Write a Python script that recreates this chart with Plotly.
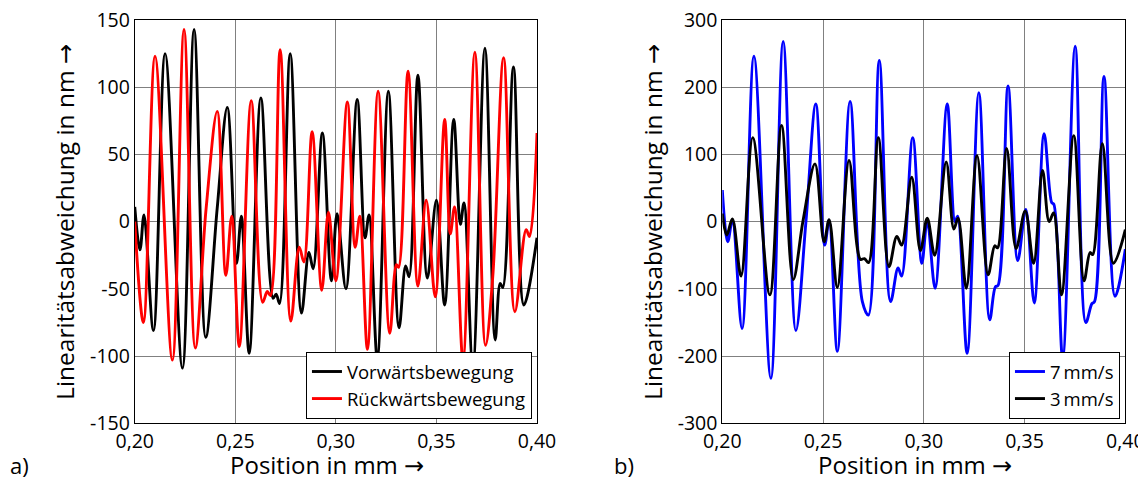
import plotly.graph_objects as go

# ---- Daten ----
# a) Vorwaerts / Rueckwaerts, Extremwerte der Kurven
x_vor = [0.2000, 0.2026, 0.2046, 0.2093, 0.2151, 0.2237, 0.2295, 0.2353, 0.2410, 0.2460,
         0.2506, 0.2530, 0.2569, 0.2627, 0.2688, 0.2703, 0.2720, 0.2773, 0.2829, 0.2866,
         0.2887, 0.2933, 0.2978, 0.3006, 0.3050, 0.3106, 0.3145, 0.3165, 0.3206, 0.3261,
         0.3314, 0.3347, 0.3364, 0.3408, 0.3455, 0.3500, 0.3541, 0.3586, 0.3619, 0.3637,
         0.3681, 0.3741, 0.3792, 0.3817, 0.3830, 0.3883, 0.3935, 0.4000]
y_vor = [11, -21, 5, -81, 125, -109, 143, -86, 10, 85,
         -31, 4, -98, 92, -57, -54, -61, 125, -68, -23,
         -35, 66, -44, 6, -50, 91, -12, 5, -102, 97,
         -79, -33, -41, 109, -42, 16, -62, 76, -2, 14,
         -108, 129, -88, -46, -49, 115, -62, -12]

x_rueck = [0.2000, 0.2043, 0.2101, 0.2187, 0.2245, 0.2301, 0.2355, 0.2410, 0.2453, 0.2482,
           0.2520, 0.2579, 0.2636, 0.2659, 0.2675, 0.2723, 0.2776, 0.2818, 0.2841, 0.2882,
           0.2930, 0.2963, 0.3000, 0.3057, 0.3096, 0.3119, 0.3157, 0.3210, 0.3268, 0.3301,
           0.3312, 0.3359, 0.3408, 0.3449, 0.3494, 0.3541, 0.3569, 0.3590, 0.3632, 0.3691,
           0.3744, 0.3780, 0.3834, 0.3890, 0.3946, 0.3963, 0.4000]
y_rueck = [0, -75, 123, -103, 143, -94, 10, 82, -40, 4,
           -93, 90, -60, -52, -55, 128, -74, -19, -30, 67,
           -51, 7, -44, 89, -19, 4, -95, 97, -83, -32,
           -34, 112, -48, 16, -56, 76, -9, 11, -103, 126,
           -92, -41, 122, -67, -6, -11, 66]

# b) 7 mm/s und 3 mm/s
x_7 = [0.2000, 0.2027, 0.2050, 0.2098, 0.2157, 0.2241, 0.2302, 0.2365, 0.2415, 0.2464,
       0.2508, 0.2530, 0.2571, 0.2634, 0.2695, 0.2725, 0.2779, 0.2835, 0.2872, 0.2890,
       0.2945, 0.2990, 0.3017, 0.3056, 0.3116, 0.3155, 0.3168, 0.3215, 0.3273, 0.3327,
       0.3355, 0.3368, 0.3418, 0.3466, 0.3506, 0.3548, 0.3597, 0.3635, 0.3645, 0.3689,
       0.3751, 0.3804, 0.3834, 0.3847, 0.3894, 0.3949, 0.4000]
y_7 = [47, -30, 2, -159, 246, -233, 268, -162, 0, 175,
       -35, 2, -193, 179, -119, -139, 240, -119, -69, -81,
       125, -62, 2, -99, 175, 0, 8, -196, 192, -146,
       -97, -95, 202, -58, 18, -121, 131, 28, 26, -203,
       261, -150, -122, -119, 216, -111, -41]

x_3 = [0.2000, 0.2022, 0.2050, 0.2093, 0.2151, 0.2236, 0.2294, 0.2352, 0.2401, 0.2460,
       0.2505, 0.2530, 0.2571, 0.2629, 0.2685, 0.2705, 0.2726, 0.2774, 0.2827, 0.2866,
       0.2890, 0.2940, 0.2983, 0.3017, 0.3054, 0.3111, 0.3149, 0.3170, 0.3211, 0.3264,
       0.3319, 0.3352, 0.3366, 0.3411, 0.3458, 0.3503, 0.3545, 0.3589, 0.3622, 0.3644,
       0.3683, 0.3744, 0.3795, 0.3825, 0.3838, 0.3886, 0.3941, 0.4000]
y_3 = [12, -20, 4, -81, 125, -109, 143, -86, 2, 86,
       -30, 3, -98, 91, -56, -55, -61, 125, -67, -22,
       -35, 66, -43, 5, -50, 89, -11, 5, -99, 98,
       -79, -36, -39, 109, -40, 16, -62, 76, 0, 13,
       -109, 128, -88, -46, -49, 116, -62, -12]

x_ticks = [0.20, 0.25, 0.30, 0.35, 0.40]
x_ticktext = ["0,20", "0,25", "0,30", "0,35", "0,40"]
y_ticks_a = [-150, -100, -50, 0, 50, 100, 150]
y_ticks_b = [-300, -200, -100, 0, 100, 200, 300]

schrift = "Open Sans"
pfeil = '<span style="font-family:DejaVu Sans">\u2192</span>'

fig = go.Figure()

def linie(x, y, farbe, name, xa, ya, leg):
    return go.Scatter(x=x, y=y, mode="lines", name=name, xaxis=xa, yaxis=ya, legend=leg,
                      line=dict(color=farbe, width=2.9, shape="spline", smoothing=1.0))

fig.add_trace(linie(x_vor, y_vor, "black", "Vorwärtsbewegung", "x", "y", "legend"))
fig.add_trace(linie(x_rueck, y_rueck, "#ff0000", "Rückwärtsbewegung", "x", "y", "legend"))
fig.add_trace(linie(x_7, y_7, "#0000ff", "7\u2009mm/s", "x2", "y2", "legend2"))
fig.add_trace(linie(x_3, y_3, "black", "3\u2009mm/s", "x2", "y2", "legend2"))

achse_x = dict(range=[0.20, 0.40], tickvals=x_ticks, ticktext=x_ticktext, automargin=False,
               showline=True, linecolor="black", linewidth=1, mirror=True,
               showgrid=True, gridcolor="#808080", gridwidth=1, zeroline=False,
               ticks="", tickfont=dict(size=19.5, color="black"), ticklabeloverflow="allow")
achse_y = dict(showline=True, linecolor="black", linewidth=1, mirror=True, automargin=False,
               showgrid=True, gridcolor="#808080", gridwidth=1, zeroline=False,
               ticks="", tickfont=dict(size=19.5, color="black"), ticklabeloverflow="allow",
               title=dict(text="Linearitätsabweichung in nm " + pfeil, font=dict(size=24.5, color="black"), standoff=8))

# die Seite hat 8px Rand, daher alles etwas verschoben
fig.update_layout(
    width=1146, height=477,
    margin=dict(l=0, r=0, t=0, b=0),
    paper_bgcolor="white", plot_bgcolor="white",
    font=dict(family=schrift, color="black"),
    xaxis=dict(achse_x, domain=[0.1106, 0.4616], anchor="y"),
    yaxis=dict(achse_y, domain=[0.1294, 0.9748], anchor="x", range=[-150, 150],
               tickvals=y_ticks_a, ticktext=[str(v) for v in y_ticks_a]),
    xaxis2=dict(achse_x, domain=[0.6233, 0.975], anchor="y2"),
    yaxis2=dict(achse_y, domain=[0.1294, 0.9748], anchor="x2", range=[-300, 300],
                tickvals=y_ticks_b, ticktext=[str(v) for v in y_ticks_b]),
    legend=dict(x=0.4572, y=0.1384, xanchor="right", yanchor="bottom",
                bgcolor="white", bordercolor="black", borderwidth=1,
                font=dict(size=18.5, color="black"), tracegroupgap=0),
    legend2=dict(x=0.9703, y=0.1384, xanchor="right", yanchor="bottom",
                 bgcolor="white", bordercolor="black", borderwidth=1,
                 font=dict(size=18.5, color="black"), tracegroupgap=0),
    showlegend=True,
)

# Achsentitel x und Kennbuchstaben
for xm in [(0.1106 + 0.4616) / 2 - 0.008, (0.6233 + 0.975) / 2 - 0.008]:
    fig.add_annotation(text="Position in mm " + pfeil, x=xm, y=0.042, xref="paper", yref="paper",
                       xanchor="center", yanchor="middle", showarrow=False, font=dict(size=24))
fig.add_annotation(text="a)", x=0.0, y=0.042, xref="paper", yref="paper",
                   xanchor="left", yanchor="middle", showarrow=False, font=dict(size=22))
fig.add_annotation(text="b)", x=0.527, y=0.042, xref="paper", yref="paper",
                   xanchor="left", yanchor="middle", showarrow=False, font=dict(size=22))

fig.write_html("out.html")
